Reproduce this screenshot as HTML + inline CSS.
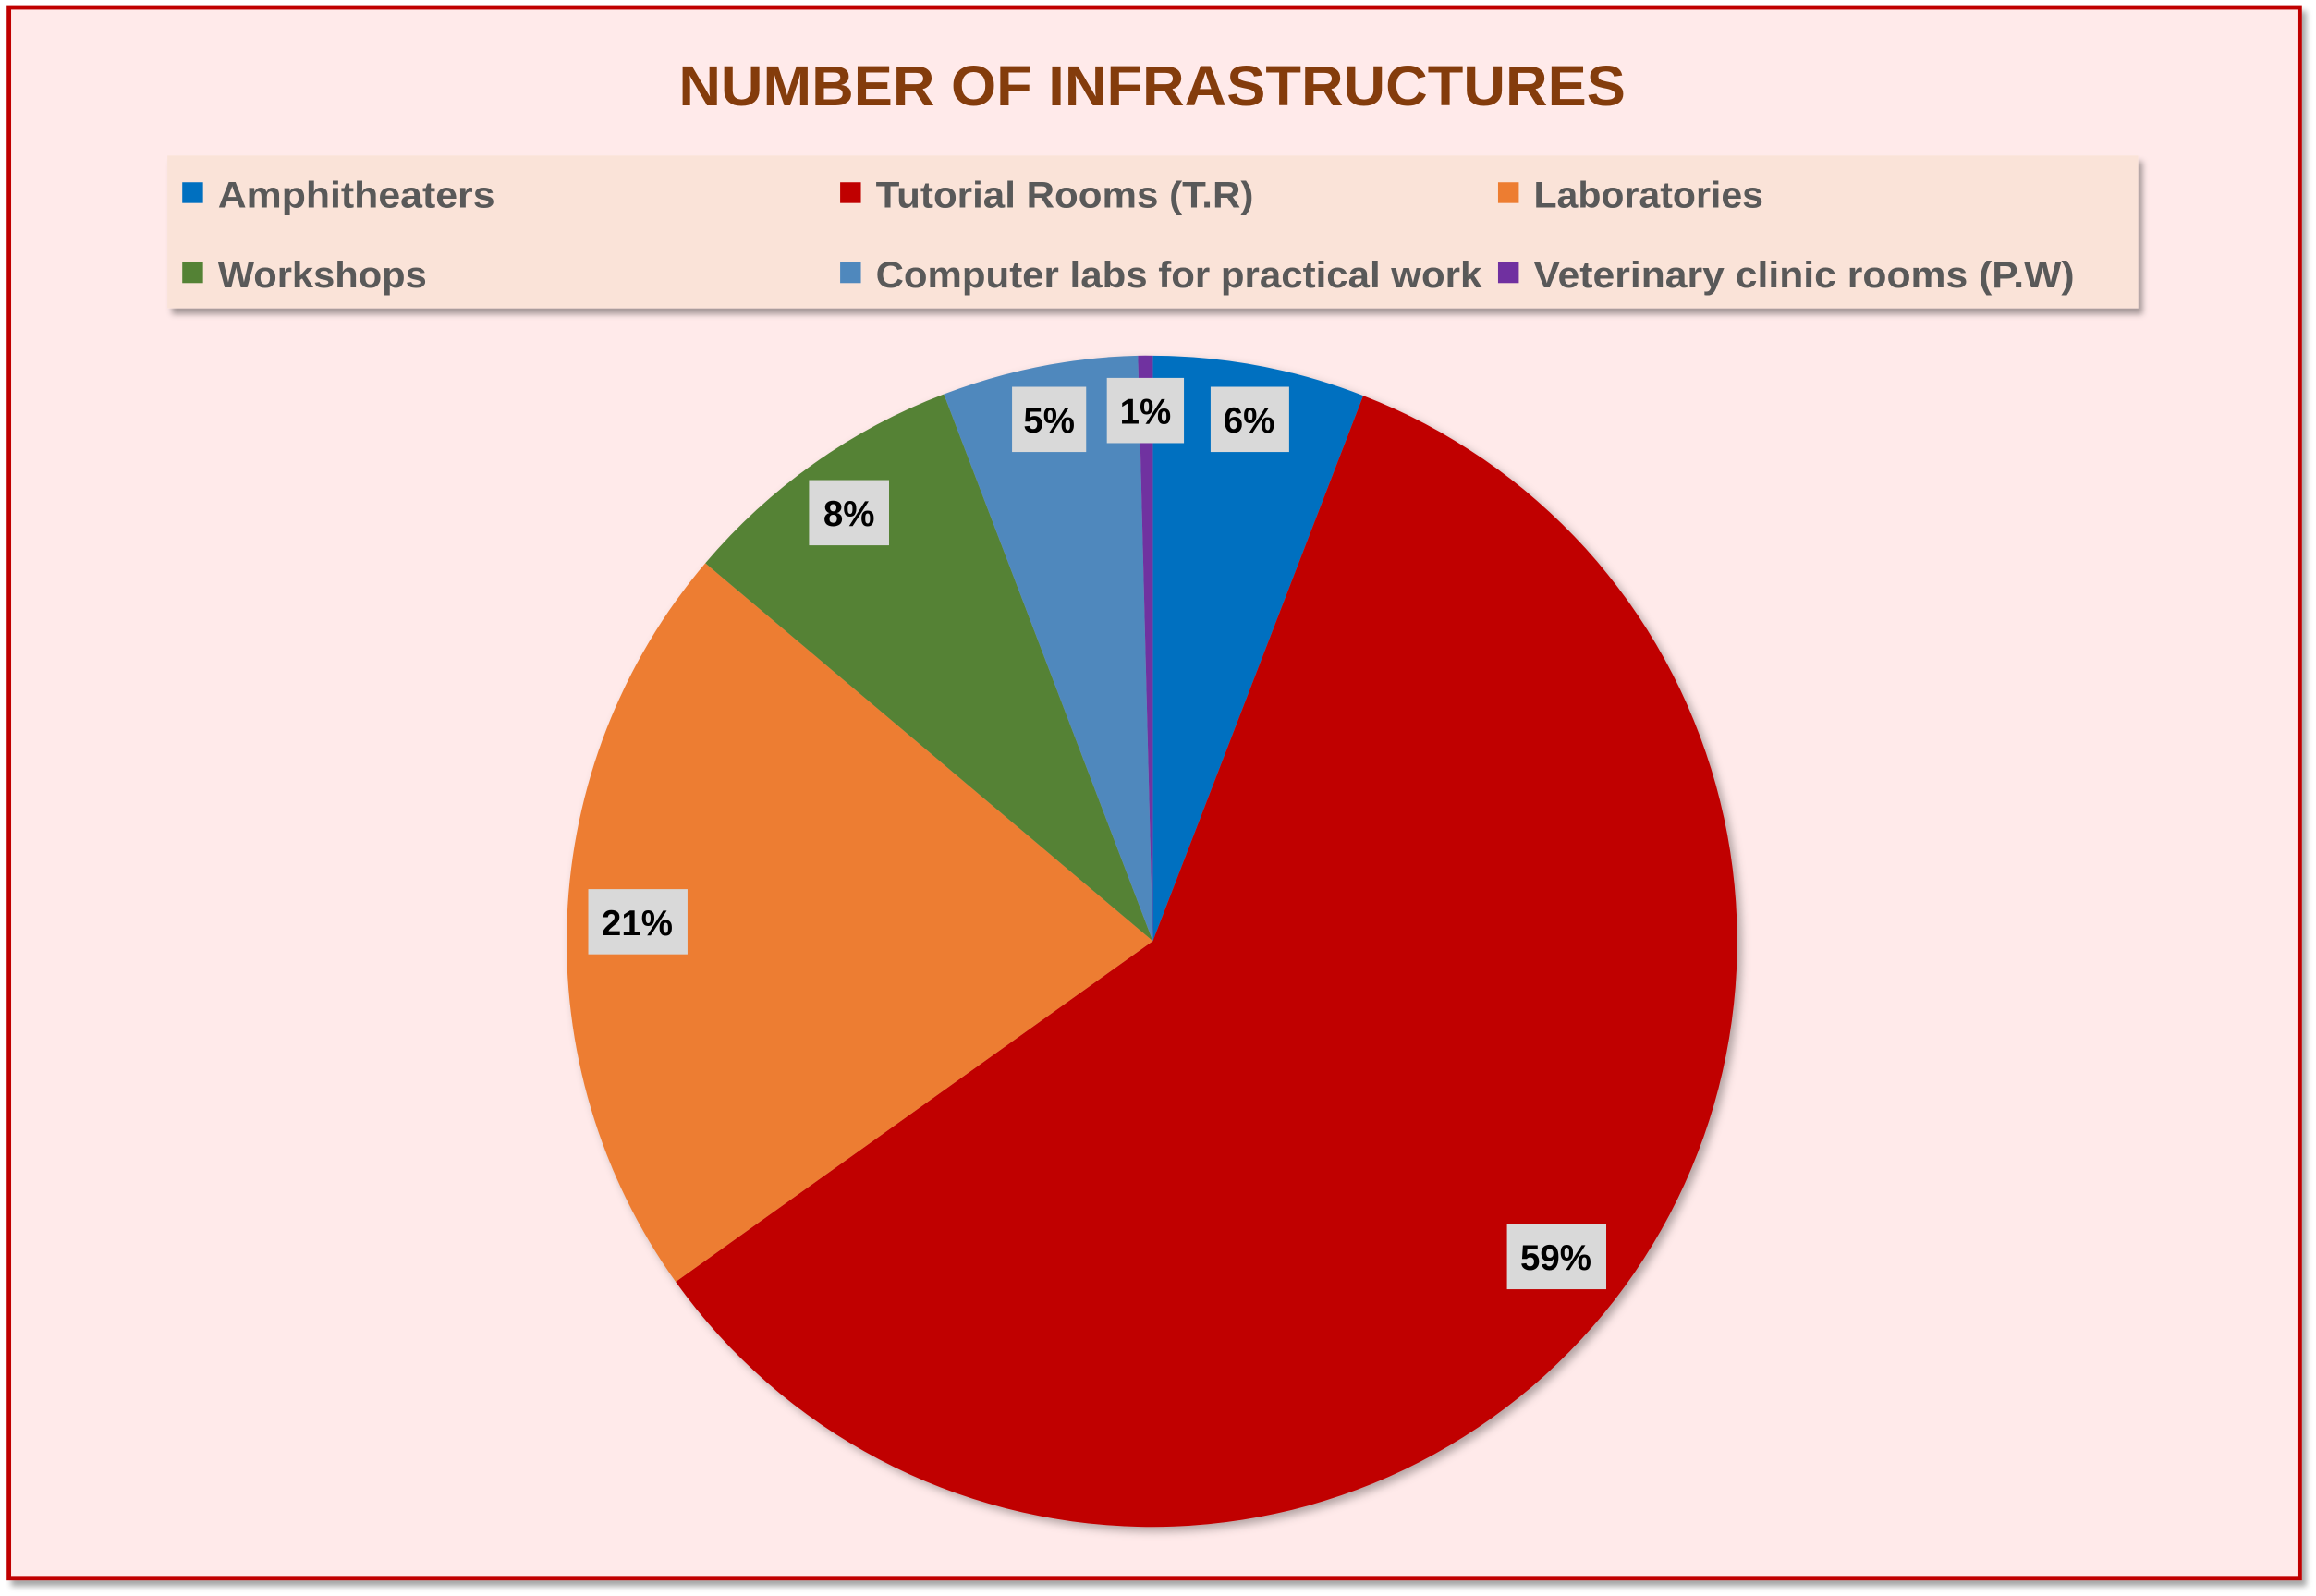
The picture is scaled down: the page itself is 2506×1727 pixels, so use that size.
<!DOCTYPE html>
<html><head><meta charset="utf-8"><style>
html,body{margin:0;padding:0;background:#fff;}
svg{display:block;}
text{font-family:"Liberation Sans",sans-serif;font-weight:bold;}
</style></head><body>
<svg width="2506" height="1727" viewBox="0 0 1563 1077" preserveAspectRatio="none" xmlns="http://www.w3.org/2000/svg">
<defs>
<filter id="sh" x="-5%" y="-5%" width="110%" height="120%"><feDropShadow dx="3" dy="4" stdDeviation="2" flood-color="#000" flood-opacity="0.35"/></filter>
<filter id="ps" x="-5%" y="-5%" width="110%" height="110%"><feDropShadow dx="3" dy="3" stdDeviation="3" flood-color="#000" flood-opacity="0.3"/></filter>
</defs>
<rect x="0" y="0" width="1563" height="1077" fill="#fff"/>
<rect x="6" y="5" width="1546" height="1060" fill="#FFEAEA" stroke="#C00000" stroke-width="3" filter="url(#sh)"/>
<text x="458" y="71" font-size="38" fill="#843C0C" textLength="639" lengthAdjust="spacingAndGlyphs">NUMBER OF INFRASTRUCTURES</text>
<rect x="113" y="105" width="1330" height="103" fill="#FAE3D8" filter="url(#sh)"/>
<g font-size="25" fill="#595959">
<rect x="123" y="123" width="14" height="14" fill="#0070C0"/><text x="147" y="140" textLength="187" lengthAdjust="spacingAndGlyphs">Amphitheaters</text>
<rect x="567" y="123" width="14" height="14" fill="#C00000"/><text x="591" y="140" textLength="255" lengthAdjust="spacingAndGlyphs">Tutorial Rooms (T.R)</text>
<rect x="1011" y="123" width="14" height="14" fill="#ED7D31"/><text x="1035" y="140" textLength="155" lengthAdjust="spacingAndGlyphs">Laboratories</text>
<rect x="123" y="177" width="14" height="14" fill="#548235"/><text x="147" y="194" textLength="141" lengthAdjust="spacingAndGlyphs">Workshops</text>
<rect x="567" y="177" width="14" height="14" fill="#4F88BD"/><text x="591" y="194" textLength="409" lengthAdjust="spacingAndGlyphs">Computer labs for practical work</text>
<rect x="1011" y="177" width="14" height="14" fill="#7030A0"/><text x="1035" y="194" textLength="365" lengthAdjust="spacingAndGlyphs">Veterinary clinic rooms (P.W)</text>
</g>
<g filter="url(#ps)">
<path d="M778,635 L778,240 A395,395 0 0,1 920,267 Z" fill="#0070C0"/>
<path d="M778,635 L920,267 A395,395 0 1,1 456,865 Z" fill="#C00000"/>
<path d="M778,635 L456,865 A395,395 0 0,1 476,380 Z" fill="#ED7D31"/>
<path d="M778,635 L476,380 A395,395 0 0,1 637,266 Z" fill="#548235"/>
<path d="M778,635 L637,266 A395,395 0 0,1 768,240 Z" fill="#4F88BD"/>
<path d="M778,635 L768,240 A395,395 0 0,1 778,240 Z" fill="#7030A0"/>
</g>
<g font-size="24" fill="#000" text-anchor="middle">
<rect x="817" y="261" width="53" height="44" fill="#D9D9D9"/><text x="843" y="292">6%</text>
<rect x="683" y="261" width="50" height="44" fill="#D9D9D9"/><text x="708" y="292">5%</text>
<rect x="747" y="255" width="52" height="44" fill="#D9D9D9"/><text x="773" y="286">1%</text>
<rect x="546" y="324" width="54" height="44" fill="#D9D9D9"/><text x="573" y="355">8%</text>
<rect x="397" y="600" width="67" height="44" fill="#D9D9D9"/><text x="430" y="631">21%</text>
<rect x="1017" y="826" width="67" height="44" fill="#D9D9D9"/><text x="1050" y="857">59%</text>
</g>
</svg>
</body></html>
